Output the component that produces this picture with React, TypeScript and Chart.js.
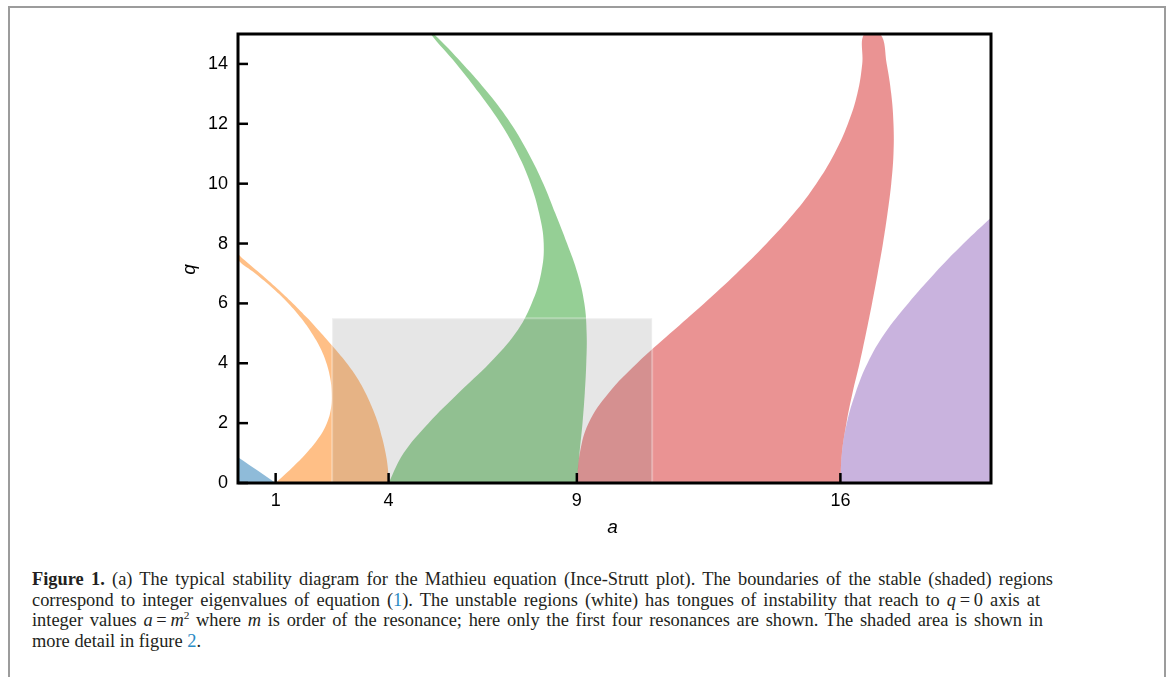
import React, { useEffect, useRef } from "react";
import { Chart, registerables } from "chart.js";

Chart.register(...registerables);

// ---- Boundary curves of the stable regions (a on x, q on y) ----
// blue region: between a0 (off to the left) and b1
const b1Q = [0, 0.2, 0.4, 0.6, 0.75, 0.86];
const b1A = [1.0, 0.77, 0.54, 0.3, 0.13, 0.0];
const a0Q = [0, 0.5, 1.0];
const a0A = [0, -0.12, -0.46];

// orange region: between a1 and b2
const a1Q = [0, 0.5, 1.0, 1.5, 2.0, 2.5, 3.0, 3.5, 4.0, 4.5, 5.0, 5.5, 6.0, 6.5, 7.0, 7.45];
const a1A = [1.0, 1.43, 1.82, 2.14, 2.36, 2.47, 2.49, 2.45, 2.35, 2.19, 1.96, 1.68, 1.34, 0.93, 0.46, 0.0];
const b2Q = [0, 0.5, 1.0, 1.5, 2.0, 2.5, 3.0, 3.5, 4.0, 4.5, 5.0, 5.5, 6.0, 6.5, 7.0, 7.5, 7.63];
const b2A = [4.0, 3.98, 3.92, 3.83, 3.72, 3.57, 3.39, 3.17, 2.89, 2.56, 2.21, 1.85, 1.46, 1.04, 0.59, 0.12, 0.0];

// green region: between a2 and b3
const a2Q = [0, 1, 2, 3, 4, 5, 6, 7, 8, 9, 10, 11, 12, 13, 14, 15];
const a2A = [4.0, 4.4, 5.06, 5.85, 6.68, 7.37, 7.8, 8.05, 8.12, 8.0, 7.77, 7.43, 6.98, 6.42, 5.8, 5.12];
const b3Q = [0, 1, 2, 3, 4, 5, 6, 7, 8, 9, 10, 11, 12, 13, 14, 15];
const b3A = [9.0, 9.07, 9.15, 9.21, 9.25, 9.26, 9.2, 9.02, 8.74, 8.43, 8.11, 7.72, 7.25, 6.66, 5.97, 5.2];

// red region: between a3 and b4
const a3Q = [0, 1, 2, 3, 4, 5, 6, 7, 8, 9, 10, 11, 12, 13, 14, 15];
const a3A = [9.0, 9.08, 9.31, 9.84, 10.6, 11.48, 12.38, 13.24, 14.04, 14.76, 15.36, 15.84, 16.2, 16.45, 16.58, 16.63];
const b4Q = [0, 1, 2, 3, 4, 5, 6, 7, 8, 9, 10, 11, 12, 13, 14, 15];
const b4A = [16.0, 16.04, 16.16, 16.32, 16.51, 16.68, 16.84, 16.99, 17.13, 17.25, 17.35, 17.41, 17.41, 17.35, 17.23, 17.06];

// purple region: between a4 and b5 (b5 lies beyond the right edge)
const a4Q = [0, 1, 2, 3, 4, 5, 6, 7, 8, 9, 10];
const a4A = [16.0, 16.04, 16.17, 16.4, 16.72, 17.18, 17.8, 18.5, 19.27, 20.12, 21.05];
const b5Q = [0, 10.0];
const b5A = [25.0, 25.5];

// shaded area shown in more detail in figure 2
const zoomA = [2.5, 11.0];
const zoomQ = [0, 5.5];

// axes
const aRange = [0, 20];
const qRange = [0, 15];
const xTickValues = [1, 4, 9, 16];
const yTickValues = [0, 2, 4, 6, 8, 10, 12, 14];
const xTitle = "a";
const yTitle = "q";

const regionColors = [
  "rgba(31,119,180,0.5)",
  "rgba(255,127,14,0.5)",
  "rgba(44,160,44,0.5)",
  "rgba(214,39,40,0.5)",
  "rgba(148,103,189,0.5)",
];

const pts = (A: number[], Q: number[]) => A.map((a, i) => ({ x: a, y: Q[i] }));
const band = (loA: number[], loQ: number[], hiA: number[], hiQ: number[]) => [
  ...pts(loA, loQ),
  ...pts(hiA, hiQ).reverse(),
];

const FONT = '"Liberation Sans", Arial, sans-serif';

const framePlugin = {
  id: "frameTicks",
  afterDatasetsDraw(chart: any) {
    const { ctx, chartArea, scales } = chart;
    const { left, top, right, bottom } = chartArea;
    ctx.save();
    ctx.strokeStyle = "#000";
    ctx.lineWidth = 2.5;
    ctx.lineCap = "butt";
    for (const t of scales.x.ticks) {
      const px = scales.x.getPixelForValue(t.value);
      ctx.beginPath();
      ctx.moveTo(px, bottom);
      ctx.lineTo(px, bottom - 10);
      ctx.stroke();
    }
    for (const t of scales.y.ticks) {
      const py = scales.y.getPixelForValue(t.value);
      ctx.beginPath();
      ctx.moveTo(left, py);
      ctx.lineTo(left + 10, py);
      ctx.stroke();
    }
    ctx.lineWidth = 3;
    ctx.strokeRect(left, top, right - left, bottom - top);

    // axis titles
    ctx.fillStyle = "#000";
    ctx.font = `italic 19px ${FONT}`;
    ctx.textAlign = "center";
    ctx.textBaseline = "middle";
    ctx.fillText(xTitle, (left + right) / 2 - 2, bottom + 45);
    ctx.translate(left - 48, (top + bottom) / 2 + 11);
    ctx.rotate(-Math.PI / 2);
    ctx.fillText(yTitle, 0, 0);
    ctx.restore();
  },
};

export default function App() {
  const ref = useRef<HTMLCanvasElement>(null);

  useEffect(() => {
    const common = {
      pointRadius: 0,
      pointHoverRadius: 0,
      borderWidth: 0,
      fill: "shape",
      capBezierPoints: false,
    };
    const datasets: any[] = [
      {
        ...common,
        data: pts([zoomA[0], zoomA[1], zoomA[1], zoomA[0], zoomA[0]], [zoomQ[0], zoomQ[0], zoomQ[1], zoomQ[1], zoomQ[0]]),
        backgroundColor: "rgba(128,128,128,0.2)",
        borderColor: "rgba(255,255,255,0.3)",
        borderWidth: 2,
        tension: 0,
      },
      { ...common, data: band(a4A, a4Q, b5A, b5Q), backgroundColor: regionColors[4], tension: 0.4 },
      { ...common, data: band(a3A, a3Q, b4A, b4Q), backgroundColor: regionColors[3], tension: 0.4 },
      { ...common, data: band(a2A, a2Q, b3A, b3Q), backgroundColor: regionColors[2], tension: 0.4 },
      { ...common, data: band(a1A, a1Q, b2A, b2Q), backgroundColor: regionColors[1], tension: 0.4 },
      { ...common, data: band(b1A, b1Q, a0A, a0Q), backgroundColor: regionColors[0], tension: 0 },
    ];

    const tickFont = { family: FONT, size: 18 };

    const chart = new Chart(ref.current as HTMLCanvasElement, {
      type: "line",
      data: { datasets },
      options: {
        animation: false,
        responsive: false,
        events: [],
        layout: { padding: { left: 100, right: 177, top: 34, bottom: 17 } },
        plugins: { legend: { display: false }, tooltip: { enabled: false } },
        scales: {
          x: {
            type: "linear",
            min: aRange[0],
            max: aRange[1],
            afterBuildTicks: (s: any) => {
              s.ticks = xTickValues.map((v) => ({ value: v }));
            },
            afterFit: (s: any) => {
              s.height = 60;
            },
            grid: { display: false, drawTicks: false },
            border: { display: false },
            ticks: { font: tickFont, color: "#000", padding: 7, maxRotation: 0, autoSkip: false },
          },
          y: {
            type: "linear",
            min: qRange[0],
            max: qRange[1],
            afterBuildTicks: (s: any) => {
              s.ticks = yTickValues.map((v) => ({ value: v }));
            },
            afterFit: (s: any) => {
              s.width = 138;
            },
            grid: { display: false, drawTicks: false },
            border: { display: false },
            ticks: { font: tickFont, color: "#000", padding: 10, autoSkip: false },
          },
        },
      } as any,
      plugins: [framePlugin],
    });
    return () => chart.destroy();
  }, []);

  const blue = { color: "#2a8bc4" };
  const lineBase: React.CSSProperties = { textAlign: "justify", textAlignLast: "justify" as any, height: 20.5 };

  return (
    <div style={{ position: "fixed", left: 0, top: 0, width: 1168, height: 677, overflow: "hidden", background: "#fff" }}>
      <div
        style={{
          position: "absolute",
          left: 8,
          top: 6,
          width: 1158,
          height: 720,
          border: "2px solid #9c9c9c",
          boxSizing: "border-box",
        }}
      />
      <canvas
        ref={ref}
        width={1168}
        height={560}
        style={{ position: "absolute", left: 0, top: 0, width: 1168, height: 560 }}
      />
      <div
        style={{
          position: "absolute",
          left: 32,
          top: 569,
          fontFamily: '"Liberation Serif", "Times New Roman", serif',
          fontSize: 18.4,
          lineHeight: "20.5px",
          color: "#231f20",
        }}
      >
        <div style={{ ...lineBase, width: 1021 }}>
          <b>Figure 1.</b> (a) The typical stability diagram for the Mathieu equation (Ince-Strutt plot). The boundaries of the stable (shaded) regions
        </div>
        <div style={{ ...lineBase, width: 1008 }}>
          correspond to integer eigenvalues of equation (<span style={blue}>1</span>). The unstable regions (white) has tongues of instability that reach to <i>q</i>{"\u2009=\u2009"}0 axis at
        </div>
        <div style={{ ...lineBase, width: 1011 }}>
          integer values <i>a</i>{"\u2009=\u2009"}<i>m</i>
          <span style={{ fontSize: "0.62em", position: "relative", top: "-0.6em" }}>2</span> where <i>m</i> is order of the resonance; here only the first four resonances are shown. The shaded area is shown in
        </div>
        <div style={{ height: 20.5 }}>
          more detail in figure <span style={blue}>2</span>.
        </div>
      </div>
    </div>
  );
}
